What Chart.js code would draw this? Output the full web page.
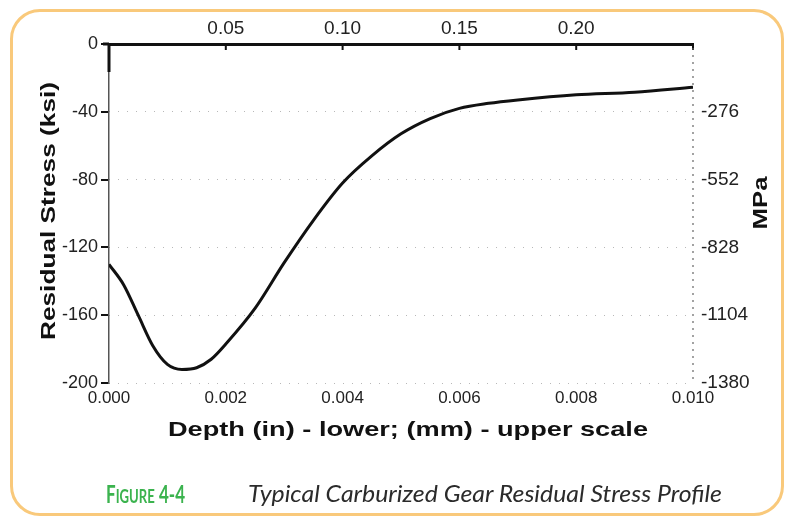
<!DOCTYPE html>
<html>
<head>
<meta charset="utf-8">
<script src="https://cdn.jsdelivr.net/npm/chart.js@4/dist/chart.umd.min.js"></script>
<style>
  html, body { margin: 0; padding: 0; background: #fff; }
  #wrap { position: relative; width: 796px; height: 521px; overflow: hidden; background: #fff; }
  #frame { position: absolute; left: 10px; top: 9px; width: 774px; height: 507px; border: 3px solid #f9c97b; border-radius: 30px; box-sizing: border-box; }
  #cv { position: absolute; left: 0; top: 0; }
  .cap { position: absolute; white-space: nowrap; transform-origin: left center; line-height: 1; }
  #fig { left: 106px; top: 482px; color: #3bb34e; font-family: Lato, "Noto Sans", sans-serif; font-weight: 700; font-size: 24px; }
  #fig .sc { font-size: 18.5px; }
  #ttl { left: 248px; top: 481px; color: #2b2b2b; font-family: Lato, "Open Sans", sans-serif; font-style: italic; font-weight: 400; font-size: 24px; }
</style>
</head>
<body>
<div id="wrap">
  <div id="frame"></div>
  <canvas id="cv" width="796" height="521"></canvas>
  <div class="cap" id="fig">F<span class="sc">IGURE</span> 4-4</div>
  <div class="cap" id="ttl">Typical Carburized Gear Residual Stress Profile</div>
</div>
<script>
// ---- data ----
const depthIn = [0, 0.00025, 0.0005, 0.00075, 0.001, 0.00125, 0.0015, 0.00175, 0.002, 0.0025, 0.003, 0.0035, 0.004, 0.0045, 0.005, 0.0055, 0.006, 0.0065, 0.007, 0.008, 0.009, 0.010];
const stressKsi = [-130, -142, -160, -178, -189, -192, -191, -186, -177, -156, -129, -104, -82, -66, -53, -44, -38, -35, -33, -30, -28.5, -25.5];
const inTicks = [0, 0.002, 0.004, 0.006, 0.008, 0.010];
const mmTicks = [0.05, 0.10, 0.15, 0.20];
const ksiTicks = [0, -40, -80, -120, -160, -200];
const mpaTicks = [-276, -552, -828, -1104, -1380];
const xTitle = 'Depth (in) - lower; (mm) - upper scale';
const yTitle = 'Residual Stress (ksi)';
const y2Title = 'MPa';

const FONT = '"Liberation Sans", Arial, Helvetica, sans-serif';

function setTicks(list) { return s => { s.ticks = list.map(v => ({ value: v })); }; }

const decor = {
  id: 'decor',
  afterDraw(chart) {
    const { ctx, chartArea: a, scales } = chart;
    ctx.save();
    // top axis line extends slightly past the left axis
    ctx.strokeStyle = '#111'; ctx.lineWidth = 3;
    ctx.beginPath(); ctx.moveTo(a.left - 6, a.top); ctx.lineTo(a.left, a.top); ctx.stroke();
    // thick black top segment of left axis
    ctx.beginPath(); ctx.moveTo(a.left, a.top - 1); ctx.lineTo(a.left, a.top + 28); ctx.stroke();
    // inward ticks on top (mm) axis
    ctx.lineWidth = 2;
    [...mmTicks, scales.x2.max].forEach(v => {
      const px = scales.x2.getPixelForValue(v);
      ctx.beginPath(); ctx.moveTo(px, a.top); ctx.lineTo(px, a.top + 6); ctx.stroke();
    });
    // dotted right border
    ctx.strokeStyle = '#666'; ctx.lineWidth = 1.2; ctx.setLineDash([2, 5]);
    ctx.beginPath(); ctx.moveTo(a.right, a.top + 4); ctx.lineTo(a.right, a.bottom); ctx.stroke();
    ctx.setLineDash([]);
    // titles (stretched bold sans)
    function stretched(text, x, y, rot, len) {
      ctx.save();
      ctx.font = 'bold 21px ' + FONT;
      const w = ctx.measureText(text).width;
      ctx.translate(x, y); ctx.rotate(rot); ctx.scale(len / w, 1);
      ctx.fillStyle = '#111'; ctx.textAlign = 'center'; ctx.textBaseline = 'middle';
      ctx.fillText(text, 0, 0);
      ctx.restore();
    }
    stretched(xTitle, 408, 430, 0, 480);
    stretched(yTitle, 49, 211, -Math.PI / 2, 258);
    stretched(y2Title, 761, 203, -Math.PI / 2, 53);
    ctx.restore();
  }
};

new Chart(document.getElementById('cv'), {
  type: 'line',
  data: {
    datasets: [{
      data: depthIn.map((x, i) => ({ x, y: stressKsi[i] })),
      borderColor: '#111', borderWidth: 3, pointRadius: 0,
      cubicInterpolationMode: 'monotone', xAxisID: 'x', yAxisID: 'y'
    }]
  },
  options: {
    responsive: false, animation: false, devicePixelRatio: 1,
    layout: { padding: 0 },
    plugins: { legend: { display: false }, tooltip: { enabled: false } },
    scales: {
      x: {
        type: 'linear', position: 'bottom', min: 0, max: 0.010,
        afterBuildTicks: setTicks(inTicks),
        afterFit: s => { s.height = 138; },
        grid: { display: false, drawTicks: false },
        border: { display: false },
        ticks: { callback: v => v.toFixed(3), font: { family: FONT, size: 17 }, color: '#222', padding: 5, maxRotation: 0, autoSkip: false }
      },
      x2: {
        type: 'linear', position: 'top', min: 0, max: 0.25,
        afterBuildTicks: setTicks(mmTicks),
        afterFit: s => { s.height = 44; },
        grid: { display: false, drawTicks: false },
        border: { display: true, color: '#111', width: 3 },
        ticks: { callback: v => v.toFixed(2), font: { family: FONT, size: 19 }, color: '#222', padding: 4, maxRotation: 0, autoSkip: false }
      },
      y: {
        type: 'linear', position: 'left', min: -200, max: 0,
        afterBuildTicks: setTicks(ksiTicks),
        afterFit: s => { s.width = 109; },
        grid: { display: true, drawOnChartArea: false, drawTicks: true, tickLength: 8, color: '#111', lineWidth: 2 },
        border: { display: true, color: '#555', width: 1.5 },
        ticks: { callback: v => String(v), font: { family: FONT, size: 18 }, color: '#222', padding: 3, autoSkip: false }
      },
      y2: {
        type: 'linear', position: 'right', min: -1380, max: 0,
        afterBuildTicks: setTicks(mpaTicks),
        afterFit: s => { s.width = 103; },
        grid: { display: true, drawOnChartArea: true, drawTicks: false, color: 'rgba(0,0,0,0.28)', lineWidth: 1 },
        border: { display: false, dash: [1, 8] },
        ticks: { callback: v => String(v), font: { family: FONT, size: 19 }, color: '#222', padding: 8, autoSkip: false }
      }
    }
  },
  plugins: [decor]
});

// fit caption pieces to the reference widths
function fit(id, target) {
  const el = document.getElementById(id);
  const w = el.getBoundingClientRect().width;
  el.style.transform = 'scaleX(' + (target / w) + ')';
}
fit('fig', 79);
fit('ttl', 474);
</script>
</body>
</html>
